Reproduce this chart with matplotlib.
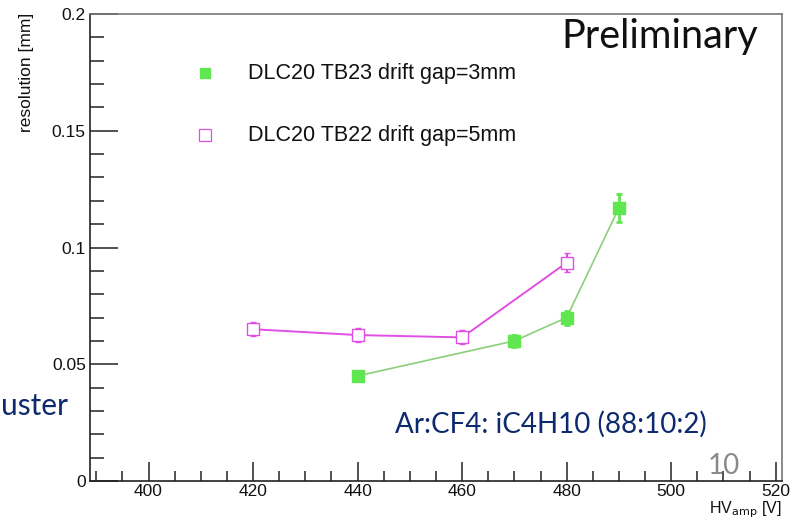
import matplotlib.pyplot as plt
from matplotlib.ticker import MultipleLocator, FixedLocator

# Data
hv_tb23 = [440, 470, 480, 490]
res_tb23 = [0.045, 0.060, 0.070, 0.117]
err_tb23 = [0.002, 0.0025, 0.003, 0.006]

hv_tb22 = [420, 440, 460, 480]
res_tb22 = [0.065, 0.0625, 0.0615, 0.0935]
err_tb22 = [0.003, 0.003, 0.003, 0.004]

xticks = [400, 420, 440, 460, 480, 500, 520]
yticks = [0, 0.05, 0.1, 0.15, 0.2]
ytick_labels = ['0', '0.05', '0.1', '0.15', '0.2']

green = '#5fe650'
green_line = '#8ccf7a'
magenta = '#e04fe4'
navy = '#0d2a6e'

plt.rcParams['font.family'] = ['Liberation Sans', 'DejaVu Sans']

fig = plt.figure(figsize=(8, 5.21), dpi=100)
ax = fig.add_axes([0.1125, 0.0768, 0.865, 0.8963])

# data series
ax.plot(hv_tb23, res_tb23, '-', color=green_line, lw=1.2, zorder=2)
ax.errorbar(hv_tb23, res_tb23, yerr=err_tb23, fmt='s', color=green, ms=8,
            mec=green, mfc=green, ecolor=green, elinewidth=2, capsize=2.5, capthick=2,
            zorder=3)
ax.plot(hv_tb22, res_tb22, '-', color=magenta, lw=1.4, zorder=2)
ax.errorbar(hv_tb22, res_tb22, yerr=err_tb22, fmt='s', color=magenta, ms=9,
            mec=magenta, mfc='white', mew=1.0, ecolor=magenta, elinewidth=1.5,
            capsize=2.5, capthick=2, zorder=3)

ax.set_xlim(388.8, 521.2)
ax.set_ylim(0, 0.2)

ax.xaxis.set_major_locator(FixedLocator(xticks))
ax.xaxis.set_minor_locator(MultipleLocator(5))
ax.yaxis.set_major_locator(FixedLocator(yticks))
ax.yaxis.set_minor_locator(MultipleLocator(0.01))
ax.set_yticklabels(ytick_labels)

ax.tick_params(axis='both', which='both', direction='in', top=False, right=False,
               color='#333333', labelsize=12.5, labelcolor='#111111')
ax.tick_params(axis='y', which='major', length=20, width=1.2, pad=3)
ax.tick_params(axis='y', which='minor', length=10, width=1.2)
ax.tick_params(axis='x', which='major', length=14, width=1.2, pad=2)
ax.tick_params(axis='x', which='minor', length=7, width=1.2)
for side in ['left', 'bottom']:
    ax.spines[side].set_color('#222222')
    ax.spines[side].set_linewidth(1.2)
for side in ['top', 'right']:
    ax.spines[side].set_color('#777777')
    ax.spines[side].set_linewidth(1.2)

# axis titles, ROOT style at the ends of the axes
fig.text(0.033, 0.975, 'resolution [mm]', rotation=90, ha='center', va='top',
         fontsize=12.5, color='#111111')
fig.text(0.9775, 1 - 513 / 521, r'HV$_{\mathrm{amp}}$ [V]', ha='right', va='baseline',
         fontsize=11.5, color='#111111')

# legend drawn by hand
ax.plot([0.166], [0.874], 's', transform=ax.transAxes, color=green, ms=7)
fig.text(0.31, 1 - 73 / 521, 'DLC20 TB23 drift gap=3mm', va='center', fontsize=15.5,
         color='#111111')
ax.plot([0.166], [0.741], 's', transform=ax.transAxes, mec=magenta, mfc='white',
        ms=8, mew=0.9)
fig.text(0.31, 1 - 135 / 521, 'DLC20 TB22 drift gap=5mm', va='center', fontsize=15.5,
         color='#111111')

# overlay text from the slide
fig.text(0.9475, 1 - 48 / 521, 'Preliminary', ha='right', va='baseline',
         fontsize=28.5, color='#111111', family='Lato')
fig.text(0.085, 1 - 415 / 521, 'uster', ha='right', va='baseline', fontsize=21.5,
         color=navy, family='Lato')
fig.text(0.494, 1 - 433 / 521, 'Ar:CF4: iC4H10 (88:10:2)', ha='left', va='baseline',
         fontsize=20, color=navy, family='Lato')
fig.text(0.884, 1 - 474 / 521, '10', ha='left', va='baseline', fontsize=20,
         color='#8a8a8a', family='Lato')

fig.savefig('out.png', dpi=100)
